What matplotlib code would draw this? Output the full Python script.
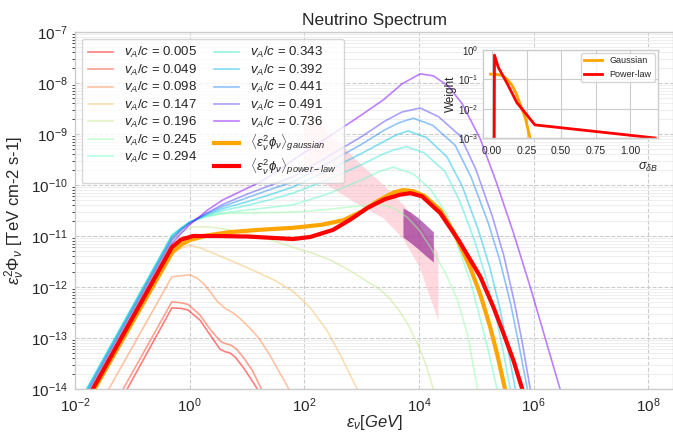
import numpy as np
import matplotlib
matplotlib.use("Agg")
import matplotlib.pyplot as plt

plt.rcParams.update({
    "font.family": ["Liberation Sans", "DejaVu Sans"],
    "mathtext.fontset": "custom",
    "mathtext.rm": "Liberation Sans",
    "mathtext.it": "Liberation Sans:italic",
    "mathtext.bf": "Liberation Sans:bold",
    "axes.edgecolor": "#cccccc",
    "axes.linewidth": 1.0,
    "xtick.color": "#262626",
    "ytick.color": "#262626",
    "text.color": "#262626",
    "axes.labelcolor": "#262626",
})

# Alfven speeds of the individual spectra
speeds = ["0.005", "0.049", "0.098", "0.147", "0.196", "0.245", "0.294",
          "0.343", "0.392", "0.441", "0.491", "0.736"]

# log10(E / GeV) and log10(E^2 Phi / TeV cm-2 s-1) for each spectrum
e_005 = [-1.5, -1.09, -0.31, -0.15, -0.03, 0.18, 0.35, 0.53, 0.62, 0.70, 0.80, 0.93, 1.05, 1.18, 1.4]
f_005 = [-14.8, -14.0, -12.41, -12.42, -12.45, -12.65, -12.93, -13.22, -13.27, -13.29, -13.38, -13.57, -13.77, -14.0, -14.4]
e_049 = [-1.5, -1.16, -0.31, -0.15, -0.03, 0.18, 0.35, 0.53, 0.62, 0.72, 0.82, 0.95, 1.1, 1.25, 1.5]
f_049 = [-14.7, -14.0, -12.29, -12.31, -12.34, -12.55, -12.82, -13.06, -13.11, -13.14, -13.22, -13.40, -13.65, -14.0, -14.45]
e_098 = [-1.8, -1.41, -0.31, -0.15, 0.0, 0.12, 0.23, 0.35, 0.48, 0.62, 0.76, 0.88, 1.0, 1.12, 1.23, 1.4, 1.56, 1.73, 2.0]
f_098 = [-14.8, -14.0, -11.80, -11.78, -11.76, -11.82, -11.92, -12.08, -12.28, -12.42, -12.51, -12.62, -12.75, -12.89, -13.04, -13.34, -13.66, -14.0, -14.55]
e_147 = [-2.0, -1.66, -0.31, -0.15, 0.0, 0.2, 0.4, 0.65, 0.9, 1.2, 1.5, 1.8, 2.1, 2.4, 2.65, 2.92, 3.1]
f_147 = [-14.7, -14.0, -11.33, -11.24, -11.18, -11.24, -11.33, -11.45, -11.57, -11.72, -11.88, -12.08, -12.40, -12.86, -13.38, -14.0, -14.45]
e_196 = [-2.0, -1.72, -0.31, -0.15, 0.06, 0.3, 0.6, 1.0, 1.4, 1.8, 2.15, 2.45, 2.75, 2.97, 3.32, 3.5,
         3.67, 3.82, 3.97, 4.12, 4.25, 4.4]
f_196 = [-14.55, -14.0, -11.10, -10.93, -10.82, -10.82, -10.86, -10.95, -11.07, -11.22, -11.34, -11.47,
         -11.65, -11.80, -12.05, -12.24, -12.49, -12.76, -13.10, -13.52, -14.0, -14.6]
e_245 = [-2.0, -1.76, -0.31, -0.15, 0.0, 0.23, 0.6, 1.0, 1.5, 2.0, 2.4, 2.8, 3.1, 3.35, 3.55, 3.79,
         4.0, 4.2, 4.45, 4.67, 4.85, 5.02, 5.2]
f_245 = [-14.48, -14.0, -11.06, -10.87, -10.74, -10.62, -10.56, -10.55, -10.54, -10.52, -10.48, -10.43,
         -10.40, -10.39, -10.45, -10.63, -10.88, -11.22, -11.70, -12.25, -12.95, -14.0, -15.0]
e_294 = [-2.0, -1.79, -0.31, -0.15, 0.0, 0.3, 0.58, 1.0, 1.4, 1.8, 2.4, 3.0, 3.3, 3.55, 3.9, 4.2,
         4.5, 4.72, 4.9, 5.07, 5.22, 5.36, 5.5]
f_294 = [-14.42, -14.0, -11.00, -10.85, -10.73, -10.62, -10.55, -10.49, -10.44, -10.39, -10.18, -9.90,
         -9.74, -9.65, -9.78, -10.08, -10.60, -11.33, -11.90, -12.64, -13.30, -14.0, -14.7]
e_343 = [-2.0, -1.80, -0.31, -0.15, 0.0, 0.3, 0.58, 1.0, 1.4, 1.8, 2.4, 3.0, 3.4, 3.6, 3.79, 4.09,
         4.45, 4.70, 4.97, 5.15, 5.33, 5.46, 5.59, 5.7]
f_343 = [-14.4, -14.0, -10.98, -10.84, -10.72, -10.60, -10.50, -10.40, -10.29, -10.16, -9.90, -9.60,
         -9.38, -9.30, -9.25, -9.37, -9.73, -10.29, -11.09, -11.75, -12.51, -13.21, -14.0, -14.6]
e_392 = [-2.0, -1.79, -0.31, -0.15, 0.0, 0.3, 0.58, 1.0, 1.4, 1.8, 2.4, 3.0, 3.4, 3.6, 3.81, 4.13,
         4.49, 4.76, 5.04, 5.23, 5.41, 5.54, 5.68, 5.8]
f_392 = [-14.42, -14.0, -11.00, -10.85, -10.73, -10.58, -10.46, -10.33, -10.19, -10.04, -9.72, -9.38,
         -9.14, -9.02, -8.94, -9.07, -9.45, -10.04, -10.90, -11.60, -12.42, -13.16, -14.0, -14.7]
e_441 = [-2.0, -1.77, -0.31, -0.15, 0.0, 0.3, 0.58, 1.0, 1.4, 1.8, 2.4, 3.0, 3.4, 3.65, 3.9, 4.24,
         4.63, 4.91, 5.21, 5.41, 5.60, 5.74, 5.89, 6.0]
f_441 = [-14.47, -14.0, -11.04, -10.87, -10.74, -10.56, -10.42, -10.25, -10.09, -9.94, -9.58, -9.20,
         -8.92, -8.78, -8.69, -8.83, -9.22, -9.85, -10.75, -11.48, -12.34, -13.12, -14.0, -14.7]
e_491 = [-2.0, -1.75, -0.31, -0.15, 0.0, 0.3, 0.58, 1.0, 1.4, 1.8, 2.4, 3.0, 3.4, 3.7, 4.02, 4.34,
         4.72, 4.99, 5.28, 5.48, 5.66, 5.80, 5.94, 6.05]
f_491 = [-14.5, -14.0, -11.08, -10.89, -10.75, -10.55, -10.38, -10.18, -10.01, -9.84, -9.45, -9.05,
         -8.75, -8.57, -8.49, -8.66, -9.04, -9.69, -10.62, -11.39, -12.28, -13.08, -14.0, -14.7]
e_736 = [-2.0, -1.71, -0.31, -0.15, 0.0, 0.3, 0.58, 0.9, 1.23, 1.5, 1.8, 2.1, 2.4, 2.9, 3.38, 3.7,
         4.02, 4.25, 4.5, 4.75, 5.07, 5.35, 5.65, 5.94, 6.2, 6.46, 6.6]
f_736 = [-14.6, -14.0, -11.15, -10.95, -10.78, -10.50, -10.29, -10.12, -9.94, -9.75, -9.51, -9.29,
         -9.07, -8.70, -8.33, -8.02, -7.82, -7.86, -8.05, -8.40, -9.10, -9.95, -10.95, -12.00, -13.00, -14.0, -14.6]

spec_e = [e_005, e_049, e_098, e_147, e_196, e_245, e_294, e_343, e_392, e_441, e_491, e_736]
spec_f = [f_005, f_049, f_098, f_147, f_196, f_245, f_294, f_343, f_392, f_441, f_491, f_736]

# weighted averages over the velocity distribution
e_gauss = [-2.0, -1.66, -0.31, -0.15, 0.0, 0.3, 0.65, 1.2, 1.8, 2.3, 2.68, 3.0, 3.3, 3.55, 3.72, 3.9,
           4.1, 4.37, 4.62, 4.89, 5.07, 5.24, 5.37, 5.5, 5.6]
f_gauss = [-14.7, -14.0, -11.33, -11.17, -11.08, -10.99, -10.93, -10.88, -10.84, -10.78, -10.69, -10.52,
           -10.30, -10.15, -10.10, -10.12, -10.22, -10.49, -10.95, -11.61, -12.15, -12.78, -13.35, -14.0, -14.5]
e_plaw = [-2.0, -1.69, -0.31, -0.15, 0.06, 0.5, 1.0, 1.5, 1.8, 2.1, 2.5, 2.8, 3.1, 3.4, 3.67, 3.85,
          4.05, 4.37, 4.7, 5.07, 5.3, 5.47, 5.65, 5.8, 5.9]
f_plaw = [-14.6, -14.0, -11.22, -11.07, -11.00, -11.00, -11.01, -11.04, -11.06, -11.02, -10.88, -10.68,
          -10.45, -10.28, -10.19, -10.16, -10.22, -10.55, -11.10, -11.80, -12.40, -12.90, -13.45, -14.0, -14.4]

# measured flux bands (log10 E, upper / lower log10 flux)
band_e = [2.0, 2.4, 2.9, 3.38, 3.72, 4.0, 4.33]
band_hi = [-8.45, -8.95, -9.50, -10.00, -10.38, -10.78, -11.33]
band_lo = [-9.70, -10.00, -10.35, -10.65, -11.05, -11.60, -12.65]
patch_e = [3.72, 3.85, 3.97, 4.1, 4.25]
patch_hi = [-10.45, -10.53, -10.63, -10.76, -10.92]
patch_lo = [-11.02, -11.13, -11.24, -11.37, -11.51]

# inset: weight distributions over sigma_dB
sig_gauss = [-0.01, 0.03, 0.07, 0.11, 0.145, 0.175, 0.2, 0.24, 0.275]
w_gauss = [0.15, 0.148, 0.137, 0.1, 0.063, 0.033, 0.016, 0.005, 0.001]
sig_plaw = [0.015, 0.018, 0.045, 0.08, 0.11, 0.18, 0.24, 0.31, 1.18]
w_plaw = [1e-5, 0.67, 0.26, 0.13, 0.072, 0.016, 0.0072, 0.0028, 0.001]

fig = plt.figure(figsize=(6.73, 4.34), dpi=100)
ax = fig.add_axes([75 / 673, 45 / 434, 598 / 673, 357 / 434])

colors = plt.cm.rainbow_r(np.linspace(0, 1, len(speeds)))
for c, s, e, f in zip(colors, speeds, spec_e, spec_f):
    ax.plot(10 ** np.array(e), 10 ** np.array(f), color=c, alpha=0.5, lw=1.2,
            label=r"$v_A/c$ = " + s)

ax.fill_between(10 ** np.array(band_e), 10 ** np.array(band_lo), 10 ** np.array(band_hi),
                color="pink", alpha=0.6, lw=0, zorder=1)
ax.fill_between(10 ** np.array(patch_e), 10 ** np.array(patch_lo), 10 ** np.array(patch_hi),
                color="purple", alpha=0.55, lw=0, zorder=1.5)

ax.plot(10 ** np.array(e_gauss), 10 ** np.array(f_gauss), color="orange", lw=3,
        label=r"$\langle\epsilon_\nu^2\phi_\nu\rangle_{gaussian}$")
ax.plot(10 ** np.array(e_plaw), 10 ** np.array(f_plaw), color="red", lw=3,
        label=r"$\langle\epsilon_\nu^2\phi_\nu\rangle_{power-law}$")

ax.set_xscale("log")
ax.set_yscale("log")
ax.set_xlim(1e-2, 10 ** 8.43)
ax.set_ylim(1e-14, 1e-7)
ax.set_yticks([10.0 ** k for k in range(-14, -6)])
ax.set_xticks([10.0 ** k for k in range(-2, 9, 2)])
ax.tick_params(labelsize=11, length=0, pad=5)
ax.grid(True, which="major", color="#cccccc", ls="--", lw=0.8)
ax.grid(True, which="minor", axis="y", color="#ebebeb", ls="-", lw=0.6)
ax.set_axisbelow(True)
ax.set_title("Neutrino Spectrum", fontsize=12.5, pad=5)
ax.set_xlabel(r"$\epsilon_\nu [GeV]$", fontsize=12)
ax.xaxis.set_label_coords(0.5, -0.067)
ax.set_ylabel(r"$\epsilon_\nu^2\Phi_\nu$ [TeV cm-2 s-1]", fontsize=12)
ax.yaxis.set_label_coords(-0.080, 0.5)
ax.legend(ncol=2, loc="upper left", fontsize=9.5, frameon=True, edgecolor="#cccccc",
          handlelength=1.9, columnspacing=1.3, labelspacing=0.18, borderpad=0.5,
          bbox_to_anchor=(0.0, 1.0), borderaxespad=0.5)

ins = fig.add_axes([483 / 673, (434 - 138) / 434, 175 / 673, 88 / 434])
ins.plot(sig_gauss, w_gauss, color="orange", lw=2, label="Gaussian")
ins.plot(sig_plaw, w_plaw, color="red", lw=2, label="Power-law")
ins.set_yscale("log")
ins.set_ylim(1e-3, 1.0)
ins.set_xlim(-0.065, 1.2)
ins.set_xticks([0.0, 0.25, 0.5, 0.75, 1.0])
ins.set_yticks([1e-3, 1e-2, 1e-1, 1.0])
ins.minorticks_off()
ins.tick_params(axis="x", labelsize=7.5, length=0, pad=6)
ins.tick_params(axis="y", labelsize=7, length=0, pad=3)
ins.grid(True, color="#cccccc", lw=0.8)
ins.set_ylabel("Weight", fontsize=8.5, labelpad=1)
ins.set_xlabel(r"$\sigma_{\delta B}$", fontsize=9, loc="right", labelpad=3)
ins.legend(fontsize=6.5, loc="upper right", edgecolor="#cccccc", borderaxespad=0.3)

fig.savefig("out.png", dpi=100)
